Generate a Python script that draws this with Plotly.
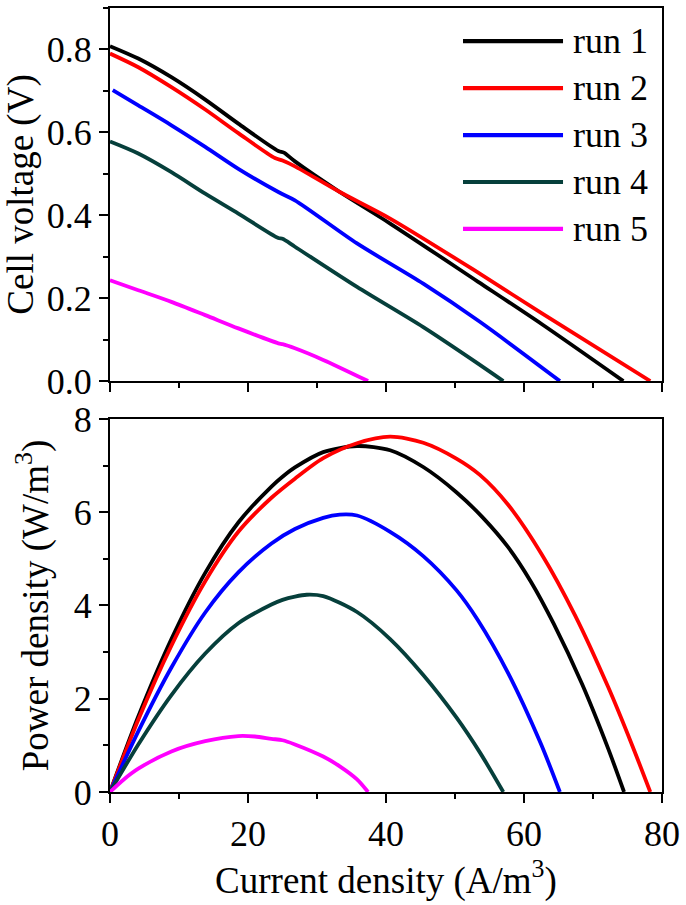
import plotly.graph_objects as go

# ---------------- data ----------------
names = ["run 1", "run 2", "run 3", "run 4", "run 5"]
colors = ["#000000", "#ff0000", "#0000ff", "#063f3b", "#ff00ff"]

# Polarization curves: current density (A/m3) vs cell voltage (V)
run1_i_v = [0, 4.1, 8.9, 13.8, 18.6, 24.4, 25.2, 26.8, 33.3, 40.6, 53.3, 62.6, 74.4]
run1_v = [0.808, 0.778, 0.733, 0.679, 0.621, 0.555, 0.551, 0.530, 0.456, 0.380, 0.240, 0.137, 0.0]

run2_i_v = [0, 4.1, 8.9, 13.8, 18.6, 23.9, 25.0, 26.8, 33.3, 40.6, 53.3, 62.6, 78.3]
run2_v = [0.790, 0.757, 0.709, 0.655, 0.598, 0.538, 0.532, 0.518, 0.456, 0.392, 0.262, 0.163, 0.0]

run3_i_v = [0.4, 4.1, 8.9, 13.8, 18.6, 24.4, 26.8, 35.8, 45.4, 53.6, 65.2]
run3_v = [0.702, 0.665, 0.617, 0.565, 0.512, 0.456, 0.436, 0.332, 0.235, 0.143, 0.0]

run4_i_v = [0, 4.1, 8.9, 13.8, 18.6, 24.4, 25.0, 26.8, 35.8, 45.4, 53.6, 57.0]
run4_v = [0.578, 0.549, 0.504, 0.452, 0.404, 0.345, 0.343, 0.324, 0.227, 0.130, 0.039, 0.0]

run5_i_v = [0, 4.1, 8.9, 13.8, 18.6, 24.4, 25.0, 26.8, 30.9, 37.4]
run5_v = [0.243, 0.219, 0.191, 0.159, 0.127, 0.091, 0.089, 0.079, 0.051, 0.0]

# Power curves: current density (A/m3) vs power density (W/m3)
run1_i_p = [0, 4.1, 8.9, 13.8, 18.6, 23.4, 25.0, 26.8, 30.9, 35.8, 40.6, 45.4, 50.2, 54.0, 57.7, 61.0, 64.3, 68.4, 72.2, 74.5]
run1_p = [0, 1.62, 3.28, 4.70, 5.78, 6.55, 6.76, 6.96, 7.29, 7.42, 7.33, 6.97, 6.43, 5.89, 5.25, 4.51, 3.61, 2.32, 0.93, 0]

run2_i_p = [0, 4.1, 8.9, 13.8, 18.6, 23.4, 26.8, 30.9, 35.8, 40.6, 45.4, 50.2, 53.6, 57.7, 62.6, 67.4, 72.2, 75.6, 78.3]
run2_p = [0, 1.55, 3.14, 4.52, 5.58, 6.31, 6.72, 7.16, 7.48, 7.62, 7.49, 7.15, 6.80, 6.16, 5.09, 3.79, 2.25, 1.03, 0]

run3_i_p = [0, 4.1, 8.9, 13.8, 18.6, 23.4, 26.8, 30.9, 33.3, 35.8, 40.6, 45.4, 50.2, 53.3, 57.7, 62.4, 65.2]
run3_p = [0, 1.30, 2.67, 3.85, 4.71, 5.33, 5.64, 5.88, 5.95, 5.93, 5.58, 5.06, 4.33, 3.69, 2.55, 1.05, 0]

run4_i_p = [0, 4.1, 8.9, 13.8, 18.6, 23.4, 25.0, 26.8, 28.5, 30.9, 35.8, 40.6, 45.4, 50.2, 53.6, 57.0]
run4_p = [0, 1.02, 2.08, 2.97, 3.62, 4.02, 4.12, 4.19, 4.23, 4.20, 3.86, 3.28, 2.51, 1.60, 0.85, 0]

run5_i_p = [0, 2.0, 4.1, 8.9, 13.8, 18.6, 21.0, 23.4, 25.0, 26.8, 30.9, 33.3, 35.8, 37.4]
run5_p = [0, 0.27, 0.50, 0.87, 1.09, 1.20, 1.19, 1.14, 1.11, 1.02, 0.76, 0.55, 0.27, 0]

x_ticks = [0, 20, 40, 60, 80]
v_ticks = [0.0, 0.2, 0.4, 0.6, 0.8]
p_ticks = [0, 2, 4, 6, 8]

volt_series = [(run1_i_v, run1_v), (run2_i_v, run2_v), (run3_i_v, run3_v),
               (run4_i_v, run4_v), (run5_i_v, run5_v)]
power_series = [(run1_i_p, run1_p), (run2_i_p, run2_p), (run3_i_p, run3_p),
                (run4_i_p, run4_p), (run5_i_p, run5_p)]

# ---------------- figure ----------------
FONT = "Liberation Serif, Times New Roman, serif"
LW = 3.8
fig = go.Figure()

for name, col, (xi, yv) in zip(names, colors, volt_series):
    fig.add_trace(go.Scatter(x=xi, y=yv, name=name, mode="lines",
                             line=dict(color=col, width=LW, shape="spline", smoothing=0.8),
                             xaxis="x2", yaxis="y2", showlegend=False))

for name, col, (xi, yp) in zip(names, colors, power_series):
    fig.add_trace(go.Scatter(x=xi, y=yp, name=name, mode="lines",
                             line=dict(color=col, width=LW, shape="spline", smoothing=0.8),
                             xaxis="x", yaxis="y", showlegend=False))

# legend drawn as long line samples + labels in the top panel, as in the reference
leg_x0, leg_x1, leg_tx = 0.6395, 0.8207, 0.835
leg_y_top, leg_step = 0.911, 0.1258
shapes, annotations = [], []
for k, (name, col) in enumerate(zip(names, colors)):
    yy = leg_y_top - k * leg_step
    shapes.append(dict(type="line", xref="x2 domain", yref="y2 domain",
                       x0=leg_x0, x1=leg_x1, y0=yy, y1=yy,
                       line=dict(color=col, width=LW + 0.4)))
    annotations.append(dict(text=name, xref="x2 domain", yref="y2 domain",
                            x=leg_tx, y=yy, xanchor="left", yanchor="middle",
                            showarrow=False,
                            font=dict(family=FONT, size=36, color="black")))

axis_common = dict(showline=True, linecolor="black", linewidth=2, mirror=True,
                   ticks="outside", ticklen=9, tickwidth=2, tickcolor="black",
                   showgrid=False, zeroline=False, automargin=False,
                   tickfont=dict(family=FONT, size=36, color="black"))
minor_common = dict(ticklen=5, tickwidth=2, ticks="outside", tickcolor="black", showgrid=False)

fig.update_layout(
    template="none",
    width=686, height=905,
    margin=dict(l=110, r=24, t=8, b=113),
    plot_bgcolor="white", paper_bgcolor="white",
    font=dict(family=FONT, color="black"),
    showlegend=False,
    shapes=shapes, annotations=annotations,
    xaxis=dict(domain=[0, 1], anchor="y", range=[0, 80], tickvals=x_ticks,
               minor=dict(dtick=10, **minor_common),
               title=dict(text="Current density (A/m<sup>3</sup>)",
                          font=dict(family=FONT, size=37), standoff=10),
               **axis_common),
    yaxis=dict(domain=[0, 0.4758], anchor="x", range=[0, 8], tickvals=p_ticks,
               minor=dict(dtick=1, **minor_common),
               title=dict(text="Power density (W/m<sup>3</sup>)",
                          font=dict(family=FONT, size=37), standoff=14),
               **axis_common),
    xaxis2=dict(domain=[0, 1], anchor="y2", range=[0, 80], tickvals=x_ticks,
                showticklabels=False,
                minor=dict(dtick=10, **minor_common),
                **axis_common),
    yaxis2=dict(domain=[0.5242, 1], anchor="x2", range=[0, 0.9], tickvals=v_ticks,
                tickformat=".1f",
                minor=dict(dtick=0.1, **minor_common),
                title=dict(text="Cell voltage (V)",
                           font=dict(family=FONT, size=37), standoff=8),
                **axis_common),
)

# remove the browser's default 8 px body margin so the figure fills the window exactly
fig.write_html("out.html", config={"displayModeBar": False},
               post_script="document.body.style.margin='0px';")
